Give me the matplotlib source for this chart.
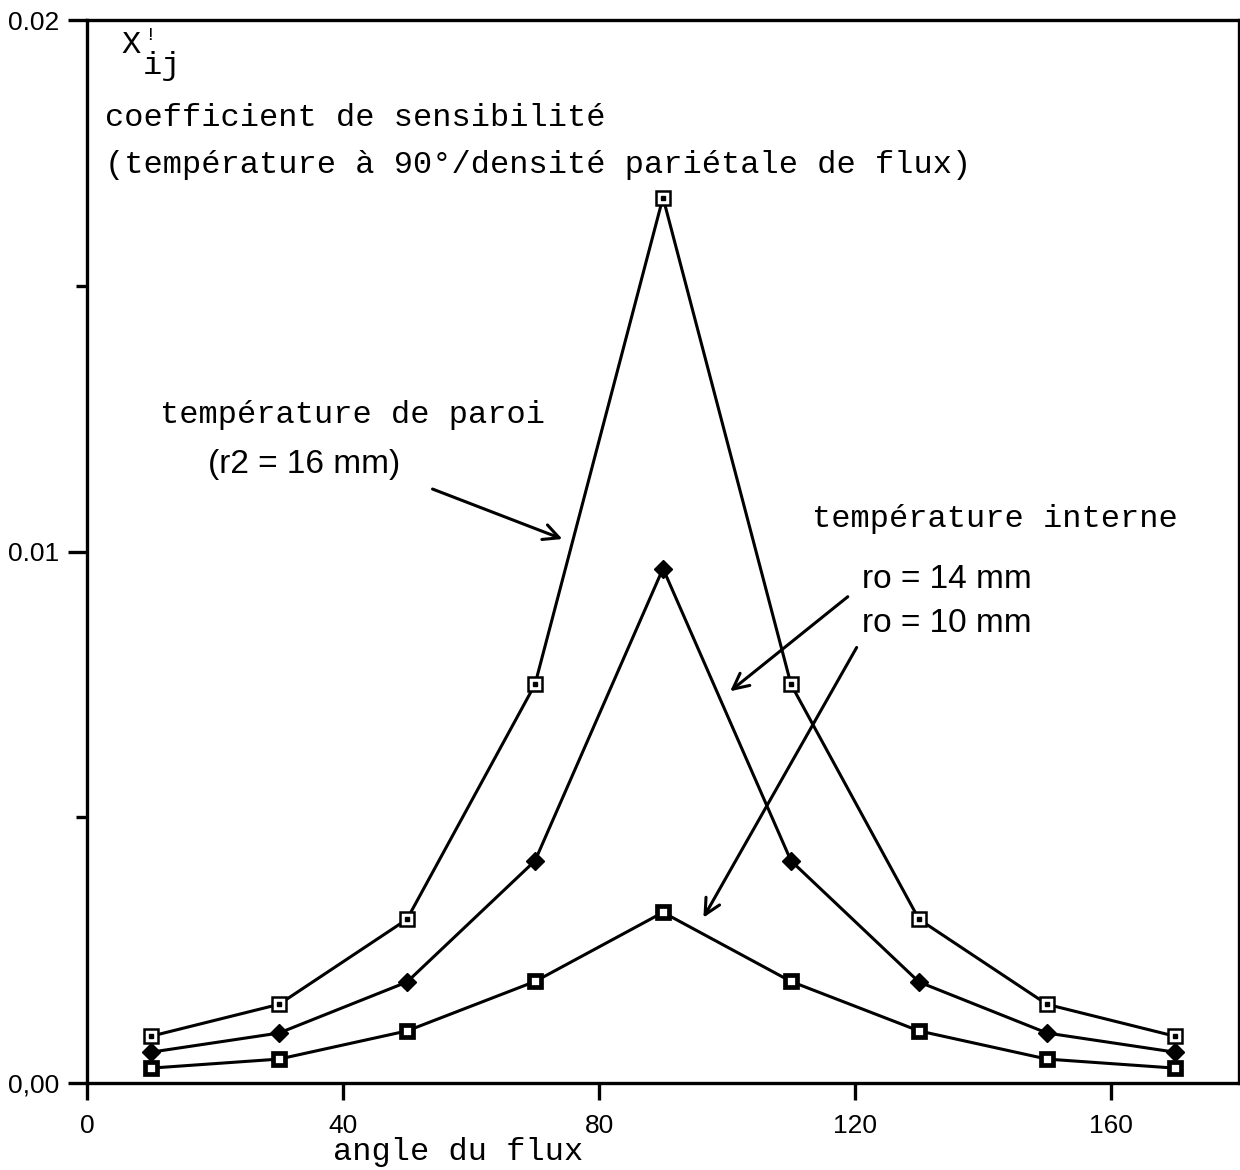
import matplotlib
matplotlib.use("Agg")
from matplotlib import pyplot as plt

# angle du flux (degrés)
angles = [10, 30, 50, 70, 90, 110, 130, 150, 170]

# coefficient de sensibilité X'ij
paroi_r2_16 = [0.00088, 0.00148, 0.00308, 0.0075, 0.01666, 0.0075, 0.00308, 0.00148, 0.00088]
interne_r0_14 = [0.00058, 0.00094, 0.0019, 0.00418, 0.00968, 0.00418, 0.0019, 0.00094, 0.00058]
interne_r0_10 = [0.00028, 0.00045, 0.00098, 0.00191, 0.00321, 0.00191, 0.00098, 0.00045, 0.00028]

x_ticks = [0, 40, 80, 120, 160]
y_ticks = [0.0, 0.01, 0.02]
y_tick_labels = ["0,00", "0.01", "0.02"]
y_minor = [0.005, 0.015]

MONO = "Liberation Mono"
SANS = "Liberation Sans"

fig = plt.figure(figsize=(12.4, 11.7), dpi=100)
ax = fig.add_axes([87 / 1240, 1 - 1083 / 1170, 1152 / 1240, 1063 / 1170])

line_kw = dict(color="black", linewidth=2.2, clip_on=False, zorder=3)
ax.plot(angles, paroi_r2_16, marker="s", markersize=10, markerfacecolor="white",
        markeredgecolor="black", markeredgewidth=1.8, **line_kw)
ax.plot(angles, paroi_r2_16, linestyle="none", marker="s", markersize=2.2,
        color="black", clip_on=False, zorder=4)
ax.plot(angles, interne_r0_14, marker="D", markersize=9, markerfacecolor="black",
        markeredgecolor="black", **line_kw)
ax.plot(angles, interne_r0_10, marker="s", markersize=8, markerfacecolor="white",
        markeredgecolor="black", markeredgewidth=3.4, **line_kw)

ax.set_xlim(0, 180)
ax.set_ylim(0, 0.02)
ax.set_xticks(x_ticks)
ax.set_xticklabels([str(t) for t in x_ticks], fontfamily=SANS, fontsize=19)
ax.set_yticks(y_ticks)
ax.set_yticklabels(y_tick_labels, fontfamily=SANS, fontsize=19)
ax.set_yticks(y_minor, minor=True)
ax.tick_params(axis="both", which="both", direction="out", width=2.4, color="black")
ax.tick_params(axis="x", length=12, pad=10)
ax.tick_params(axis="y", which="major", length=14, pad=6)
ax.tick_params(axis="y", which="minor", length=8)
for s in ax.spines.values():
    s.set_linewidth(2.4)

tkw = dict(transform=ax.transAxes, va="center", ha="left", fontfamily=MONO, fontsize=23)
ax.text(0.030, 0.9765, "X", **tkw)
ax.text(0.050, 0.985, "!", transform=ax.transAxes, va="center", ha="left",
        fontfamily=MONO, fontsize=14)
ax.text(0.048, 0.957, "ij", **tkw)
ax.text(0.0156, 0.908, "coefficient de sensibilité", **tkw)
ax.text(0.0156, 0.8636, "(température à 90°/densité pariétale de flux)", **tkw)
ax.text(0.0634, 0.6284, "température de paroi", **tkw)
ax.text(0.629, 0.5306, "température interne", **tkw)
ax.text(0.2135, -0.065, "angle du flux", **tkw)

skw = dict(transform=ax.transAxes, va="center", ha="left", fontfamily=SANS, fontsize=24)
ax.text(0.105, 0.5814, "(r2 = 16 mm)", **skw)
ax.text(0.6727, 0.4732, "ro = 14 mm", **skw)
ax.text(0.6727, 0.4327, "ro = 10 mm", **skw)

arrow = dict(arrowstyle="->", color="black", linewidth=2.2, mutation_scale=28)
ax.annotate("", xy=(0.4149, 0.5108), xytext=(0.2977, 0.5597),
            xycoords="axes fraction", arrowprops=arrow)
ax.annotate("", xy=(0.5564, 0.3669), xytext=(0.6623, 0.4591),
            xycoords="axes fraction", arrowprops=arrow)
ax.annotate("", xy=(0.5339, 0.1533), xytext=(0.6693, 0.412),
            xycoords="axes fraction", arrowprops=arrow)

fig.savefig("out.png", dpi=100)
